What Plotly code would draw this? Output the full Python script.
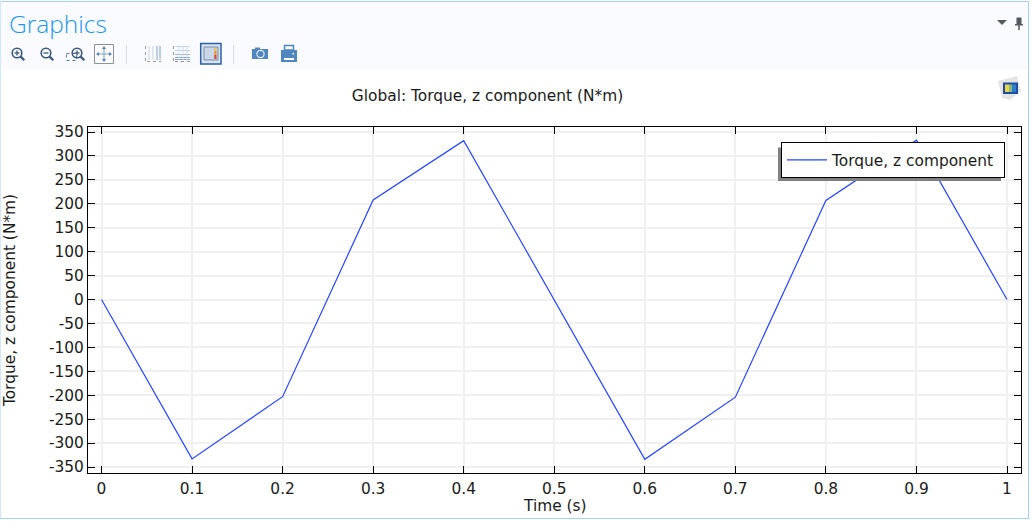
import plotly.graph_objects as go

W, H = 1033, 521

time_s = [0, 0.1, 0.2, 0.3, 0.4, 0.5, 0.6, 0.7, 0.8, 0.9, 1]
torque = [0, -333, -203, 208, 332, 0, -334, -204, 207, 333, 0]
x_ticks = [0, 0.1, 0.2, 0.3, 0.4, 0.5, 0.6, 0.7, 0.8, 0.9, 1]
y_ticks = list(range(-350, 351, 50))
x_labels = ["0", "0.1", "0.2", "0.3", "0.4", "0.5", "0.6", "0.7", "0.8", "0.9", "1"]
y_labels = [str(v) for v in y_ticks]

FONT = "DejaVu Sans"
INK = "#1a1a1a"
FS = 15.4


def X(p):
    return p / W


def Y(p):
    return 1 - p / H


shapes = []


def rect(x0, y0, x1, y1, fill=None, line=None, lw=1, layer="above", dash=None):
    shapes.append(dict(type="rect", xref="paper", yref="paper", x0=X(x0), x1=X(x1), y0=Y(y0), y1=Y(y1),
                       fillcolor=fill or "rgba(0,0,0,0)", layer=layer,
                       line=dict(color=line or "rgba(0,0,0,0)", width=lw if line else 0, dash=dash or "solid")))


def seg(x0, y0, x1, y1, color, lw=1, layer="above", dash=None):
    shapes.append(dict(type="line", xref="paper", yref="paper", x0=X(x0), x1=X(x1), y0=Y(y0), y1=Y(y1),
                       layer=layer, line=dict(color=color, width=lw, dash=dash or "solid")))


def circ(cx, cy, r, line=None, fill=None, lw=1.5):
    shapes.append(dict(type="circle", xref="paper", yref="paper", x0=X(cx - r), x1=X(cx + r), y0=Y(cy - r), y1=Y(cy + r),
                       fillcolor=fill or "rgba(0,0,0,0)", layer="above",
                       line=dict(color=line or "rgba(0,0,0,0)", width=lw if line else 0)))


def poly(pts, fill, line=None):
    path = "M " + " L ".join(f"{X(a):.5f},{Y(b):.5f}" for a, b in pts) + " Z"
    shapes.append(dict(type="path", xref="paper", yref="paper", path=path, fillcolor=fill, layer="above",
                       line=dict(color=line or "rgba(0,0,0,0)", width=1 if line else 0)))


# panel header and borders
rect(0, 2, 1028, 70, fill="#f9fbff", layer="below")
seg(0, 1.5, 1029, 1.5, "#a6d0f8", 1)
seg(1028.5, 1, 1028.5, 518, "#a6d0f8", 1)
seg(0, 518.5, 1029, 518.5, "#a6d0f8", 1)
seg(0.5, 1, 0.5, 518, "#d5e8fb", 1)

NAVY = "#3b5878"
BLUE = "#4f86bd"


def magnifier(cx, cy, sign_plus=True):
    circ(cx, cy, 4.8, line=NAVY, lw=1.6)
    seg(cx + 3.6, cy + 3.6, cx + 7.3, cy + 7.3, NAVY, 2.2)
    seg(cx - 2.5, cy, cx + 2.5, cy, NAVY, 1.3)
    if sign_plus:
        seg(cx, cy - 2.5, cx, cy + 2.5, NAVY, 1.3)


magnifier(17, 53)
magnifier(46, 53, False)
rect(66.5, 53.5, 76.5, 60.5, line="#5a7896", lw=1, dash="dot")
magnifier(77, 53)
# zoom extents
rect(94.5, 44.5, 113.5, 63.5, fill="#fbfcfe", line="#8f9396")
seg(97, 54, 111, 54, "#7f9cba", 1)
seg(104, 47, 104, 61, "#7f9cba", 1)
poly([(104, 46), (102, 49), (106, 49)], BLUE)
poly([(104, 62), (102, 59), (106, 59)], BLUE)
poly([(96, 54), (99, 52), (99, 56)], BLUE)
poly([(112, 54), (109, 52), (109, 56)], BLUE)
seg(126.5, 45, 126.5, 64, "#d8dadc", 1)
# grid icons
for gx, gc in ((149, "#c5d3e2"), (153, "#c5d3e2"), (157, "#7fa3c8"), (160, "#7fa3c8")):
    seg(gx, 46, gx, 60, gc, 1)
seg(145.5, 46, 145.5, 62, "#999999", 1, dash="dot")
seg(147, 61.5, 161, 61.5, "#999999", 1, dash="dot")
for gy, gc in ((46.5, "#c5d3e2"), (50.5, "#c5d3e2"), (54.5, "#9db6d0"), (57.5, "#7fa3c8"), (59.5, "#7fa3c8")):
    seg(175, gy, 190, gy, gc, 1)
for gx in (179, 183, 187):
    seg(gx, 46, gx, 60, "#d0dbe7", 1)
seg(173.5, 46, 173.5, 62, "#999999", 1, dash="dot")
seg(175, 61.5, 190, 61.5, "#999999", 1, dash="dot")
# active legend button
rect(200.7, 43.5, 221, 64, fill="#d4e4f6", line="#2f5f9e", lw=1.5)
rect(204, 47, 218, 60, fill="#c9d6e6", line="#7c8ca0")
rect(214.3, 48, 216.5, 51, fill="#e8c25a")
rect(214.3, 51, 216.5, 55, fill="#e8923a")
rect(214.3, 55, 216.5, 59, fill="#d8443a")
seg(233.5, 45, 233.5, 64, "#d8dadc", 1)
# camera
rect(252, 49, 268, 59, fill=BLUE)
rect(255, 47.5, 260, 50, fill=BLUE)
circ(260.5, 54, 3.6, line="#e8eef6", fill=BLUE, lw=1.2)
# printer
rect(284.5, 45.5, 293.5, 50, fill="#f9fbff", line=BLUE, lw=1.5)
rect(281, 50, 297, 62, fill=BLUE)
rect(284, 58, 294, 60, fill="#ffffff")
rect(292.5, 53, 294, 54.5, fill="#ffffff")
# header right
poly([(997, 20), (1007, 20), (1002, 25)], "#555a60")
rect(1016.5, 17.5, 1021.5, 24, fill="#555a60")
rect(1015, 24, 1023, 25.5, fill="#555a60")
seg(1019, 25, 1019, 30, "#555a60", 1.5)
# logo
poly([(998, 81), (1017, 76), (1021, 91), (1010, 100), (1002, 98)], "#e4e4e4")
rect(1003, 82.5, 1018, 94, fill="#1f4fa0")
rect(1005, 84.5, 1009, 92, fill="#e8d44a")
rect(1009, 84.5, 1012, 92, fill="#8fb87a")
rect(1012, 84.5, 1016, 92, fill="#2f7fc8")

# legend shadow (above the trace, below the legend)
rect(778, 147.5, 1001, 181, fill="#808080")

fig = go.Figure()
fig.add_trace(go.Scatter(x=time_s, y=torque, mode="lines", name="Torque, z component",
                         line=dict(color="#2545ff", width=1.2)))

x_span = 905.5
fig.update_layout(
    width=W, height=H, autosize=False,
    margin=dict(l=0, r=0, t=0, b=0),
    paper_bgcolor="white", plot_bgcolor="white",
    font=dict(family=FONT, color=INK, size=FS),
    title=dict(text="Global: Torque, z component (N*m)", x=487.5 / W, xanchor="center",
               y=Y(96), yanchor="middle", font=dict(family=FONT, size=FS, color=INK), automargin=False),
    xaxis=dict(domain=[X(88), X(1020.5)], range=[-13.5 / x_span, 1 + 13.5 / x_span],
               automargin=False,
               tickmode="array", tickvals=x_ticks, ticktext=x_labels,
               ticks="inside", ticklen=7, tickwidth=1, tickcolor="black",
               showline=True, linecolor="black", linewidth=1, mirror="ticks",
               showgrid=True, gridcolor="#f0f0f0", gridwidth=2, zeroline=False,
               tickfont=dict(size=FS), ticklabelstandoff=2),
    yaxis=dict(domain=[Y(473), Y(127)], range=[-362.5, 360.5],
               automargin=False,
               tickmode="array", tickvals=y_ticks, ticktext=y_labels,
               ticks="inside", ticklen=7, tickwidth=1, tickcolor="black",
               showline=True, linecolor="black", linewidth=1, mirror="ticks",
               showgrid=True, gridcolor="#f0f0f0", gridwidth=2, zeroline=False,
               tickfont=dict(size=FS), ticklabelstandoff=0,
               title=dict(text="Torque, z component (N*m)", standoff=29, font=dict(size=FS))),
    showlegend=True,
    legend=dict(orientation="h", x=X(781), y=Y(142.3), xanchor="left", yanchor="top",
                bgcolor="white", bordercolor="black", borderwidth=1,
                font=dict(size=FS, color=INK), itemwidth=40, entrywidth=167, entrywidthmode="pixels",
                tracegroupgap=0),
    shapes=shapes,
    annotations=[
        dict(text="Graphics", xref="paper", yref="paper", x=X(7), y=Y(24), xanchor="left",
             yanchor="middle", showarrow=False,
             font=dict(family="Open Sans", size=24.5, color="#1e96f0", weight=300)),
        dict(text="Time (s)", xref="paper", yref="paper", x=X(554.5), y=Y(506), xanchor="center",
             yanchor="middle", showarrow=False, font=dict(family=FONT, size=FS, color=INK)),
    ],
)

fig.write_html("out.html", config=dict(displayModeBar=False),
               post_script="document.body.style.margin='0';document.body.style.overflow='hidden';")
